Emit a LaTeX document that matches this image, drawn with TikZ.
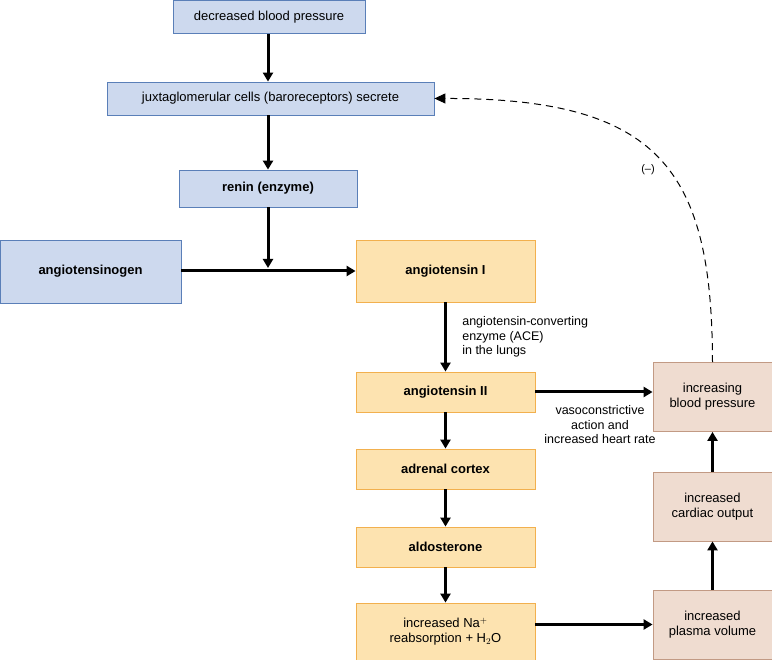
\documentclass[tikz,border=0pt]{standalone}
\usepackage{fontspec}
\setmainfont{Liberation Sans}
\usetikzlibrary{arrows.meta}
\definecolor{bfill}{HTML}{CDD9EE}\definecolor{bdraw}{HTML}{5A7FB8}
\definecolor{ofill}{HTML}{FDE3B0}\definecolor{odraw}{HTML}{F2B04E}
\definecolor{rfill}{HTML}{EFDCD0}\definecolor{rdraw}{HTML}{C29A84}
\begin{document}
\begin{tikzpicture}[x=1pt,y=-1pt,font=\fontsize{13}{15}\selectfont,
 box/.style={draw,line width=0.8pt,inner sep=0pt,align=center},
 blue/.style={box,fill=bfill,draw=bdraw},
 org/.style={box,fill=ofill,draw=odraw,font=\fontsize{13}{15}\selectfont\bfseries,minimum width=179,minimum height=40},
 red/.style={box,fill=rfill,draw=rdraw,minimum width=119,minimum height=69},
 arr/.style={line width=3pt,-{Triangle[length=9pt,width=10pt]}}]
\useasboundingbox (0,0) rectangle (772,660);
\node[blue,minimum width=192,minimum height=33] (dbp) at (269,17) {decreased blood pressure};
\node[blue,minimum width=327,minimum height=33] (jg) at (270.5,98.5) {juxtaglomerular cells (baroreceptors) secrete};
\node[blue,minimum width=178,minimum height=37,font=\fontsize{13}{15}\selectfont\bfseries] (ren) at (268,188.5) {renin (enzyme)};
\node[blue,minimum width=181,minimum height=63,font=\fontsize{13}{15}\selectfont\bfseries] (agen) at (90.5,271.5) {angiotensinogen};
\node[org,minimum height=62] (a1) at (445.5,271) {angiotensin I};
\node[org] (a2) at (445.5,392) {angiotensin II};
\node[org] (ac) at (445.5,469) {adrenal cortex};
\node[org] (ald) at (445.5,547) {aldosterone};
\node[org,minimum height=57,font=\fontsize{13}{15}\selectfont] (na) at (445.5,631.5) {increased Na$^{+}$\\reabsorption + H$_2$O};
\node[red] (ibp) at (712.5,397) {increasing\\blood pressure};
\node[red] (co) at (712.5,506.5) {increased\\cardiac output};
\node[red] (pv) at (712.5,624.5) {increased\\plasma volume};
\coordinate (j) at (268,268);
\draw[arr] (dbp.south -| 268,0) -- (jg.north -| 268,0);
\draw[arr] (jg.south -| ren) -- (ren.north);
\draw[arr] (ren) -- (j);
\draw[arr] (agen.east |- a1) -- (a1.west);
\draw[arr] (a1) -- (a2) node[pos=0.5,right=12pt,align=left,font=\fontsize{12.5}{14.5}\selectfont] {angiotensin-converting\\enzyme (ACE)\\in the lungs};
\draw[arr] (a2) -- (ac);
\draw[arr] (ac) -- (ald);
\draw[arr] (ald) -- (na);
\draw[arr] (na.east |- pv) -- (pv.west);
\draw[arr] (pv) -- (co);
\draw[arr] (co) -- (ibp);
\draw[arr] (a2.east) -- (ibp.west |- a2);
\node[align=center,font=\fontsize{12.5}{14.5}\selectfont] (vl) at (600,425) {vasoconstrictive\\action and\\increased heart rate};
\node[font=\fontsize{11}{13}\selectfont] (neg) at (648,170) {(–)};
\draw[line width=1pt,dash pattern=on 7pt off 5pt,-{Triangle[length=11pt,width=10pt]}] (ibp.north) .. controls (712,170) and (660,98) .. (jg.east);
\end{tikzpicture}
\end{document}
